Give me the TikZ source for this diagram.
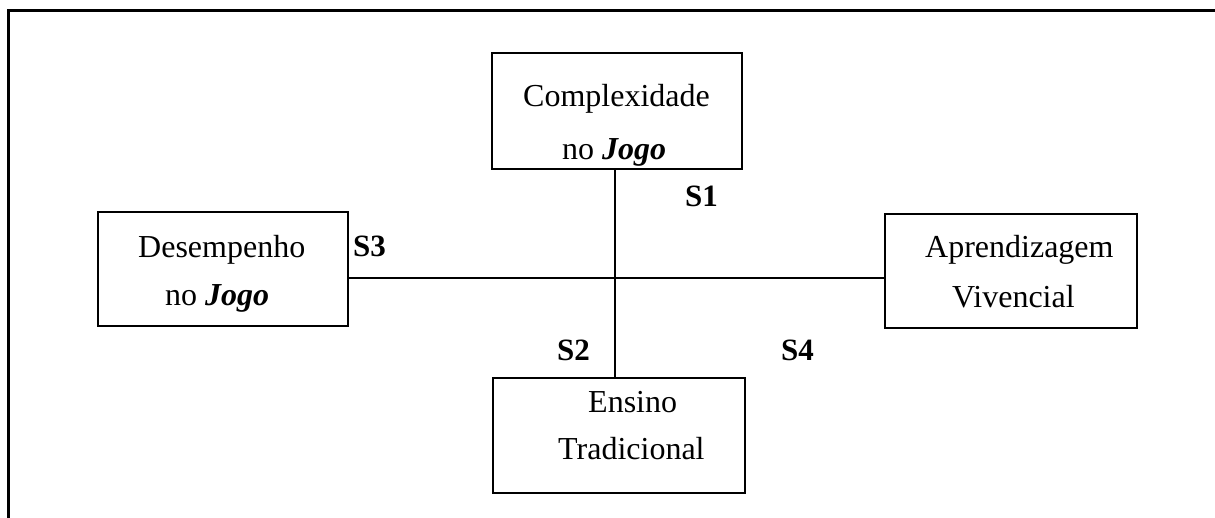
\documentclass[tikz,border=0pt]{standalone}
\usepackage{fontspec}
\setmainfont{Liberation Serif}
\begin{document}
\begin{tikzpicture}[x=1pt,y=-1pt,
  box/.style={draw,line width=2.4pt,rectangle,inner sep=0pt},
  txt/.style={anchor=base west,inner sep=0pt,font=\fontsize{32}{38}\selectfont},
  slab/.style={anchor=base west,inner sep=0pt,font=\fontsize{31}{36}\selectfont\bfseries},
  conn/.style={line width=2.2pt}]
\useasboundingbox (0,0) rectangle (1215,518);
% frame
\draw[line width=3pt] (8,518) -- (8,11) -- (1215,11);
% boxes
\node[box,minimum width=250pt,minimum height=116pt] (top) at (617,111) {};
\node[box,minimum width=250pt,minimum height=114pt] (left) at (223,269) {};
\node[box,minimum width=252pt,minimum height=114pt] (right) at (1011,271) {};
\node[box,minimum width=252pt,minimum height=115pt] (bot) at (619,435.5) {};
% texts
\node[txt] (t1) at (523,107) {Complexidade};
\node[txt] (t2) at (562,160) {no \textbf{\textit{Jogo}}};
\node[txt] (l1) at (138,258) {Desempenho};
\node[txt] (l2) at (165,306) {no \textbf{\textit{Jogo}}};
\node[txt] (r1) at (925,258) {Aprendizagem};
\node[txt] (r2) at (952,308) {Vivencial};
\node[txt] (b1) at (588,412) {Ensino};
\node[txt] (b2) at (558,459) {Tradicional};
% connectors
\coordinate (c) at (615,278);
\draw[conn] (c |- top.south) -- (c |- bot.north);
\draw[conn] (left.east |- c) -- (right.west |- c);
% labels
\node[slab] (s1) at (685,207) {S1};
\node[slab] (s3) at (353,257) {S3};
\node[slab] (s2) at (557,360) {S2};
\node[slab] (s4) at (781,360) {S4};
\end{tikzpicture}
\end{document}
